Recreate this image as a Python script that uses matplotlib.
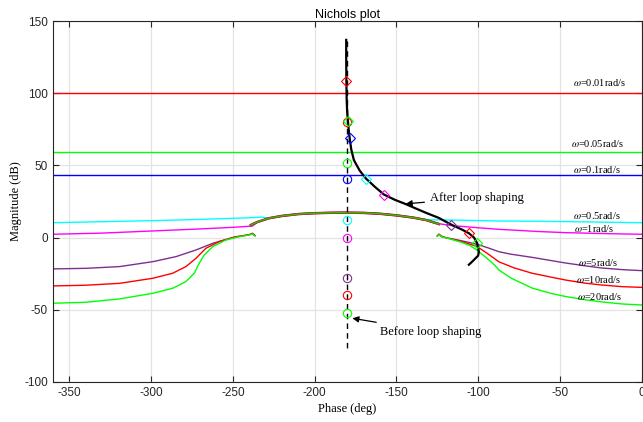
import matplotlib
matplotlib.use("Agg")
import matplotlib.pyplot as plt


# frequencies of the QFT bounds
freq_labels = ["0.01", "0.05", "0.1", "0.5", "1", "5", "10", "20"]
freq_colors = ["#FF0000", "#00FF00", "#0000FF", "#00FFFF", "#FF00FF", "#7E2F8E", "#FF0000", "#00FF00"]

# flat bounds (low frequency)
flat_phase = [-360, 0]
flat_mag = {"0.01": 100.5, "0.05": 59.5, "0.1": 43.5}

# shared upper arc of the high frequency bounds
arc_phase = [-239, -235, -228, -220, -210, -200, -190, -181, -170, -160, -150, -140, -132, -124]
arc_mag = [8.7, 10.8, 13.4, 15.0, 16.3, 16.9, 17.2, 17.3, 17.1, 16.5, 15.4, 13.9, 12.2, 9.4]

# w = 0.5 rad/s
b05_left_phase = [-360, -330, -300, -270, -238, -232]
b05_left_mag = [10.3, 11.0, 11.7, 12.6, 13.8, 14.2]
b05_right_phase = [-132, -124, -110, -87, -63, -30, 0]
b05_right_mag = [12.4, 12.3, 12.0, 11.5, 11.3, 10.8, 10.3]

# w = 1 rad/s
b1_left_phase = [-360, -330, -299, -270, -250, -238]
b1_left_mag = [2.3, 3.1, 4.6, 6.0, 7.1, 8.0]
b1_right_phase = [-124, -116, -100, -87, -63, -46, -20, 0]
b1_right_mag = [9.6, 8.3, 6.8, 5.7, 4.2, 3.4, 2.7, 2.3]

# w = 5, 10, 20 rad/s lower branches
hi_left_phase = {
    "5": [-360, -339.7, -319.3, -299, -284.8, -272.6, -262.4, -250.2, -240, -238, -236.5],
    "10": [-360, -339.7, -319.3, -299, -286.8, -278.7, -272.6, -266.5, -258.4, -248.2, -240, -238, -236.5],
    "20": [-360, -339.7, -319.3, -299, -286.8, -278.7, -273.6, -270.6, -267.5, -262.4, -254.3,
           -246.2, -240, -238, -236.5],
}
hi_left_mag = {
    "5": [-21.7, -21.3, -20.1, -16.7, -13.2, -8.6, -4.0, 0.0, 2.0, 3.0, 1.5],
    "10": [-33.5, -33.0, -31.7, -28.2, -24.7, -20.1, -14.4, -7.4, -2.8, 0.6, 2.0, 2.8, 1.3],
    "20": [-45.5, -44.8, -42.5, -38.6, -35.1, -30.5, -24.7, -17.8, -12.0, -6.3, -1.7,
           0.6, 1.8, 2.6, 1.1],
}
hi_right_phase = {
    "5": [-125, -124, -122.5, -120, -111, -105, -99.6, -93, -87.3, -80, -67, -55, -46.6, -35,
          -25, -12, 0],
    "10": [-125, -124, -122.5, -120, -111, -101, -95, -87.3, -78, -67, -55, -46.6, -35, -25,
           -12, 0],
    "20": [-125, -124, -122.5, -120, -111, -105, -101, -95, -90, -87.3, -80, -67, -55, -46.6,
           -35, -25, -12, 0],
}
hi_right_mag = {
    "5": [1.2, 2.4, 1.0, 0.0, -2.0, -3.5, -5.0, -7.5, -9.8, -11.5, -13.7, -16.0, -17.6, -19.5,
          -21.0, -22.2, -22.9],
    "10": [1.0, 2.2, 0.8, 0.0, -2.5, -6.0, -10.5, -16.8, -21.0, -24.7, -27.5, -29.4, -31.5,
           -32.8, -34.0, -34.5],
    "20": [0.8, 2.0, 0.6, 0.0, -3.0, -5.5, -8.5, -14.0, -19.0, -22.5, -28.0, -35.0, -38.8,
           -40.8, -43.0, -44.5, -46.0, -46.7],
}

# loop before shaping (dashed) and after shaping (solid)
before_phase = [-180, -180]
before_mag = [136, -79]
after_phase = [-180.7, -180.7, -180.6, -180.4, -180.1, -179.7, -179.2, -178.6, -177.6, -176.0,
               -172.5, -168.7, -163.0, -157.6, -151.0, -144.3, -138.0, -132.2, -124.0, -116.5,
               -110.0, -105.7, -102.5, -100.6, -99.6, -100.0, -101.6, -103.5, -105.7]
after_mag = [137, 125, 109, 95, 87, 81.5, 75, 69, 61, 53.7,
             46.5, 41, 35, 29.8, 26.2, 23.2, 20.1, 17.3, 13.6, 9.0,
             5.6, 3.0, 0.0, -4.0, -9.8, -12.5, -14.3, -16.5, -18.8]

# frequency points on each loop
before_pts_phase = [-180] * 8
before_pts_mag = [80.3, 52, 40.4, 12.5, 0, -27.7, -39.8, -52]
after_pts_phase = [-180.6, -179.7, -178.6, -168.7, -157.6, -116.5, -105.7, -100.6]
after_pts_mag = [108.7, 81, 68.8, 40.6, 29.5, 8.8, 3.0, -4.0]

# label anchor points for the bounds
label_phase = [-42, -43, -42, -42, -41.5, -38.7, -40, -39.8]
label_mag = [107.5, 65.3, 47.5, 15.6, 6, -17.1, -28.9, -40.9]


def draw_bounds(ax):
    for f in ["0.01", "0.05", "0.1"]:
        c = freq_colors[freq_labels.index(f)]
        ax.plot(flat_phase, [flat_mag[f]] * 2, color=c, lw=1.0)

    c05 = freq_colors[3]
    ax.plot(b05_left_phase + arc_phase[2:-2] + b05_right_phase,
            b05_left_mag + arc_mag[2:-2] + b05_right_mag, color=c05, lw=1.0)
    c1 = freq_colors[4]
    ax.plot(b1_left_phase + arc_phase[1:] + b1_right_phase,
            b1_left_mag + arc_mag[1:] + b1_right_mag, color=c1, lw=1.0)

    for f in ["5", "10", "20"]:
        c = freq_colors[freq_labels.index(f)]
        ax.plot(hi_left_phase[f], hi_left_mag[f], color=c, lw=1.0)
        ax.plot(hi_right_phase[f], hi_right_mag[f], color=c, lw=1.0)

    # overlapping arcs give the olive tint of the reference
    ax.plot(arc_phase, arc_mag, color="#7E2F8E", lw=1.8)
    ax.plot(arc_phase, arc_mag, color="#FF0000", lw=1.5)
    ax.plot(arc_phase, arc_mag, color="#00DD00", lw=0.9)


def draw_loops(ax):
    ax.plot(before_phase, before_mag, color="k", lw=1.0, ls=(0, (4, 3)))
    ax.plot(after_phase, after_mag, color="k", lw=1.6)
    for i, c in enumerate(freq_colors):
        ax.plot(before_pts_phase[i], before_pts_mag[i], "o", ms=6, mfc="none", mec=c, mew=0.8)
        ax.plot(after_pts_phase[i], after_pts_mag[i], "D", ms=5, mfc="none", mec=c, mew=0.8)


def draw_labels(ax):
    for i, f in enumerate(freq_labels):
        ax.text(label_phase[i], label_mag[i], r"$\omega$=" + f + "rad/s", ha="left", va="center",
                fontsize=7.5, family="Liberation Serif")
    arrow = dict(arrowstyle="-|>", color="k", lw=0.9, mutation_scale=9, shrinkA=2, shrinkB=0)
    ax.annotate("After loop shaping", xy=(-144.3, 23.4), xytext=(-129.5, 27.5), ha="left",
                va="center", fontsize=9, family="Liberation Serif", arrowprops=arrow)
    ax.annotate("Before loop shaping", xy=(-176.9, -55.9), xytext=(-160, -65.1), ha="left",
                va="center", fontsize=9, family="Liberation Serif", arrowprops=arrow)


def main():
    plt.rcParams.update({"font.family": "Liberation Sans", "mathtext.fontset": "stix",
                         "axes.unicode_minus": False})
    fig = plt.figure(figsize=(6.43, 4.22), dpi=100)
    ax = fig.add_axes([0.0824, 0.095, 0.9156, 0.855])

    draw_bounds(ax)
    draw_loops(ax)
    draw_labels(ax)

    ax.set_xlim(-360, 0)
    ax.set_ylim(-100, 150)
    ax.set_xticks(range(-350, 1, 50))
    ax.set_yticks(range(-100, 151, 50))
    ax.grid(True, color="#e3e3e3", lw=0.9)
    ax.set_axisbelow(True)
    ax.tick_params(direction="in", top=True, right=True, length=4, width=0.8,
                   labelsize=8.5, colors="#262626")
    for s in ax.spines.values():
        s.set_color("#262626")
        s.set_linewidth(0.8)
    ax.set_title("Nichols plot", fontsize=9, pad=2)
    ax.set_xlabel("Phase (deg)", family="Liberation Serif", fontsize=9, labelpad=3)
    ax.set_ylabel("Magnitude (dB)", family="Liberation Serif", fontsize=9, labelpad=2)

    fig.savefig("out.png", dpi=100)
    plt.close(fig)


if __name__ == "__main__":
    main()
